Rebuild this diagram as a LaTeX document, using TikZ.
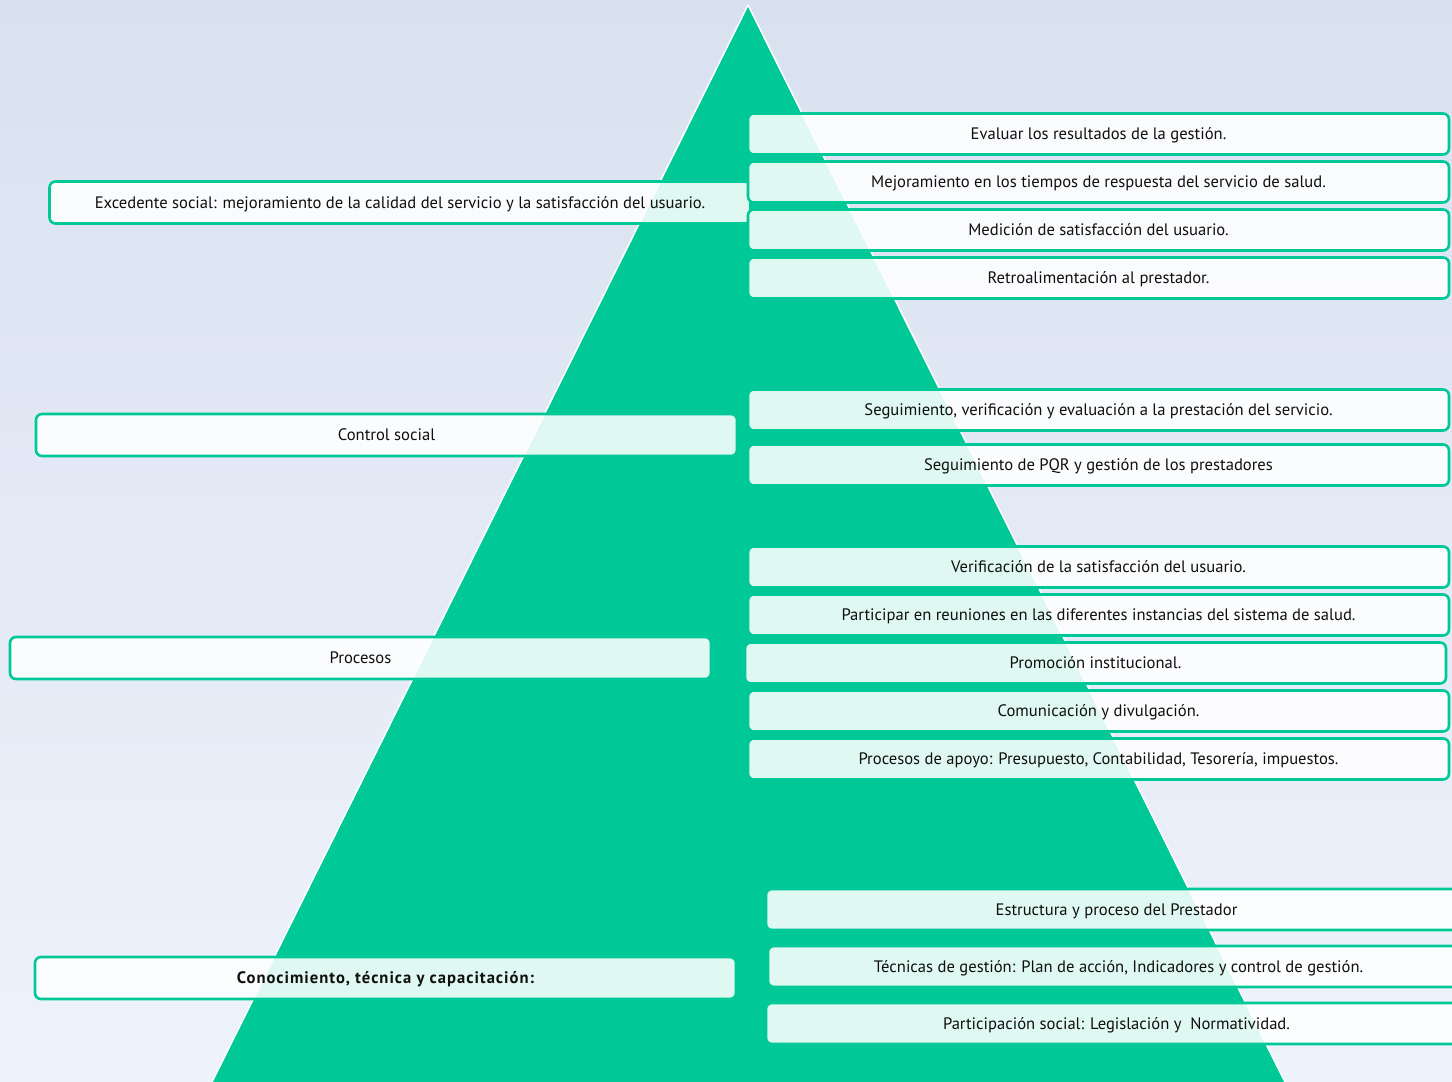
\documentclass[tikz,border=0pt]{standalone}
\usepackage{fontspec}
\setmainfont{PT Sans}
\usepackage{tikz}
\usetikzlibrary{positioning}
\definecolor{pyr}{RGB}{0,201,151}
\definecolor{bgtop}{RGB}{217,225,240}
\definecolor{bgbot}{RGB}{238,242,251}
\definecolor{txt}{RGB}{15,15,15}
\tikzset{
  pyramid/.style={fill=pyr,draw=white,line width=1.5pt,line join=round},
  itembox/.style={rectangle,rounded corners=6pt,draw=pyr,line width=2.6pt,
    fill=white,fill opacity=0.88,text opacity=1,text=txt,outer sep=0pt,
    minimum width=701pt,minimum height=41pt,inner sep=0pt,
    text height=11.6pt,text depth=0pt,
    font=\fontsize{16.6}{19}\selectfont},
  levelbox/.style={itembox,minimum height=42pt},
}

\begin{document}
\begin{tikzpicture}[x=1pt,y=-1pt,node distance=7pt]
\clip (0,0) rectangle (1452,1082);
\shade[top color=bgtop,bottom color=bgbot] (0,0) rectangle (1452,1082);

% the pyramid
\draw[pyramid] (748,5) -- (207,1092) -- (1290,1092) -- cycle;

% levels on the left
\node[levelbox] (exc) at (400,202.5) {Excedente social: mejoramiento de la calidad del servicio y la satisfacción del usuario.};
\node[levelbox] (ctl) at (386.5,435) {Control social};
\node[levelbox] (pro) at (360.5,658) {Procesos};
\node[levelbox,font=\fontsize{16.6}{19}\selectfont\bfseries\addfontfeature{LetterSpace=6}] (con) at (385.5,978) {Conocimiento, técnica y capacitación:};

% items on the right
\node[itembox] (r1) at (1098.5,134) {Evaluar los resultados de la gestión.};
\node[itembox,below=of r1] (r2) {Mejoramiento en los tiempos de respuesta del servicio de salud.};
\node[itembox,below=of r2] (r3) {Medición de satisfacción del usuario.};
\node[itembox,below=of r3] (r4) {Retroalimentación al prestador.};

\node[itembox] (r5) at (1098.5,410) {Seguimiento, verificación y evaluación a la prestación del servicio.};
\node[itembox,below=14pt of r5] (r6) {Seguimiento de PQR y gestión de los prestadores};

\node[itembox] (r7) at (1098.5,567) {Verificación de la satisfacción del usuario.};
\node[itembox,below=of r7] (r8) {Participar en reuniones en las diferentes instancias del sistema de salud.};
\node[itembox,below=of r8,xshift=-3pt] (r9) {Promoción institucional.};
\node[itembox,below=of r9,xshift=3pt] (r10) {Comunicación y divulgación.};
\node[itembox,below=of r10] (r11) {Procesos de apoyo: Presupuesto, Contabilidad, Tesorería, impuestos.};

\node[itembox] (r12) at (1116.5,909.5) {Estructura y proceso del Prestador};
\node[itembox,below=16pt of r12,xshift=2pt] (r13) {Técnicas de gestión: Plan de acción, Indicadores y control de gestión.};
\node[itembox,below=16pt of r13,xshift=-2pt] (r14) {Participación social: Legislación y~ Normatividad.};
\end{tikzpicture}
\end{document}
